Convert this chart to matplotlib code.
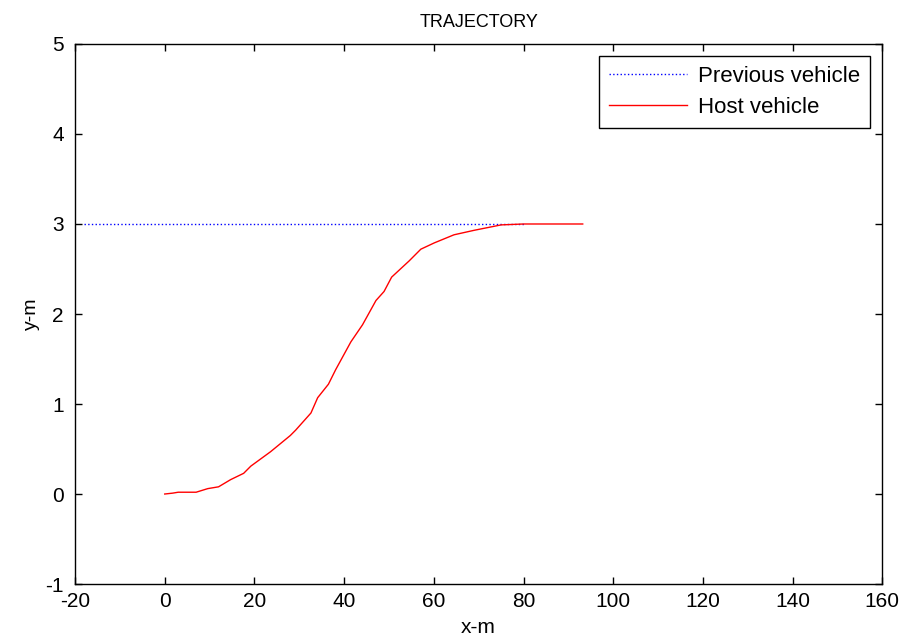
import matplotlib.pyplot as plt

# previous vehicle path (straight at y = 3)
prev_x = [-18, 80]
prev_y = [3, 3]

# host vehicle lane-change path
host_x = [0, 1.8, 3, 7, 9.6, 12, 14.7, 17.6, 19.2, 23.6, 28, 29.2, 32.6, 34.1, 36.5,
          38.1, 41.5, 44.1, 47.1, 48.9, 50.6, 54.5, 57.1, 60.1, 64.5, 69, 75, 80, 93.2]
host_y = [0, 0.01, 0.02, 0.02, 0.06, 0.08, 0.16, 0.23, 0.31, 0.47, 0.65, 0.71, 0.90, 1.07, 1.22,
          1.38, 1.69, 1.88, 2.15, 2.25, 2.41, 2.59, 2.72, 2.79, 2.88, 2.93, 2.99, 3.0, 3.0]

xticks = list(range(-20, 161, 20))
yticks = list(range(-1, 6))

plt.rcParams['font.family'] = ['Liberation Sans', 'DejaVu Sans']
plt.rcParams['axes.unicode_minus'] = False

fig = plt.figure(figsize=(9.04, 6.42), dpi=100)
ax = fig.add_axes([0.083, 0.0903, 0.893, 0.8412])

ax.plot(prev_x, prev_y, color='blue', linestyle=':', linewidth=1.0, label='Previous vehicle')
ax.plot(host_x, host_y, color='red', linewidth=1.0, label='Host vehicle')

ax.set_xlim(-20, 160)
ax.set_ylim(-1, 5)
ax.set_xticks(xticks)
ax.set_yticks(yticks)
ax.tick_params(direction='in', length=5, width=1, top=True, right=True, labelsize=15)
ax.tick_params(axis='x', pad=6)
ax.tick_params(axis='y', pad=8)
for sp in ax.spines.values():
    sp.set_linewidth(1.0)

ax.set_title('TRAJECTORY', fontsize=13, pad=12)
ax.set_xlabel('x-m', fontsize=15, labelpad=5)
ax.set_ylabel('y-m', fontsize=14, labelpad=4)

leg = ax.legend(loc='upper right', fontsize=16, handlelength=3.5, fancybox=False,
                framealpha=1, edgecolor='black', borderaxespad=0.55, labelspacing=0.45,
                handletextpad=0.5, borderpad=0.45)
leg.get_frame().set_linewidth(1.0)

fig.savefig('out.png', dpi=100)
